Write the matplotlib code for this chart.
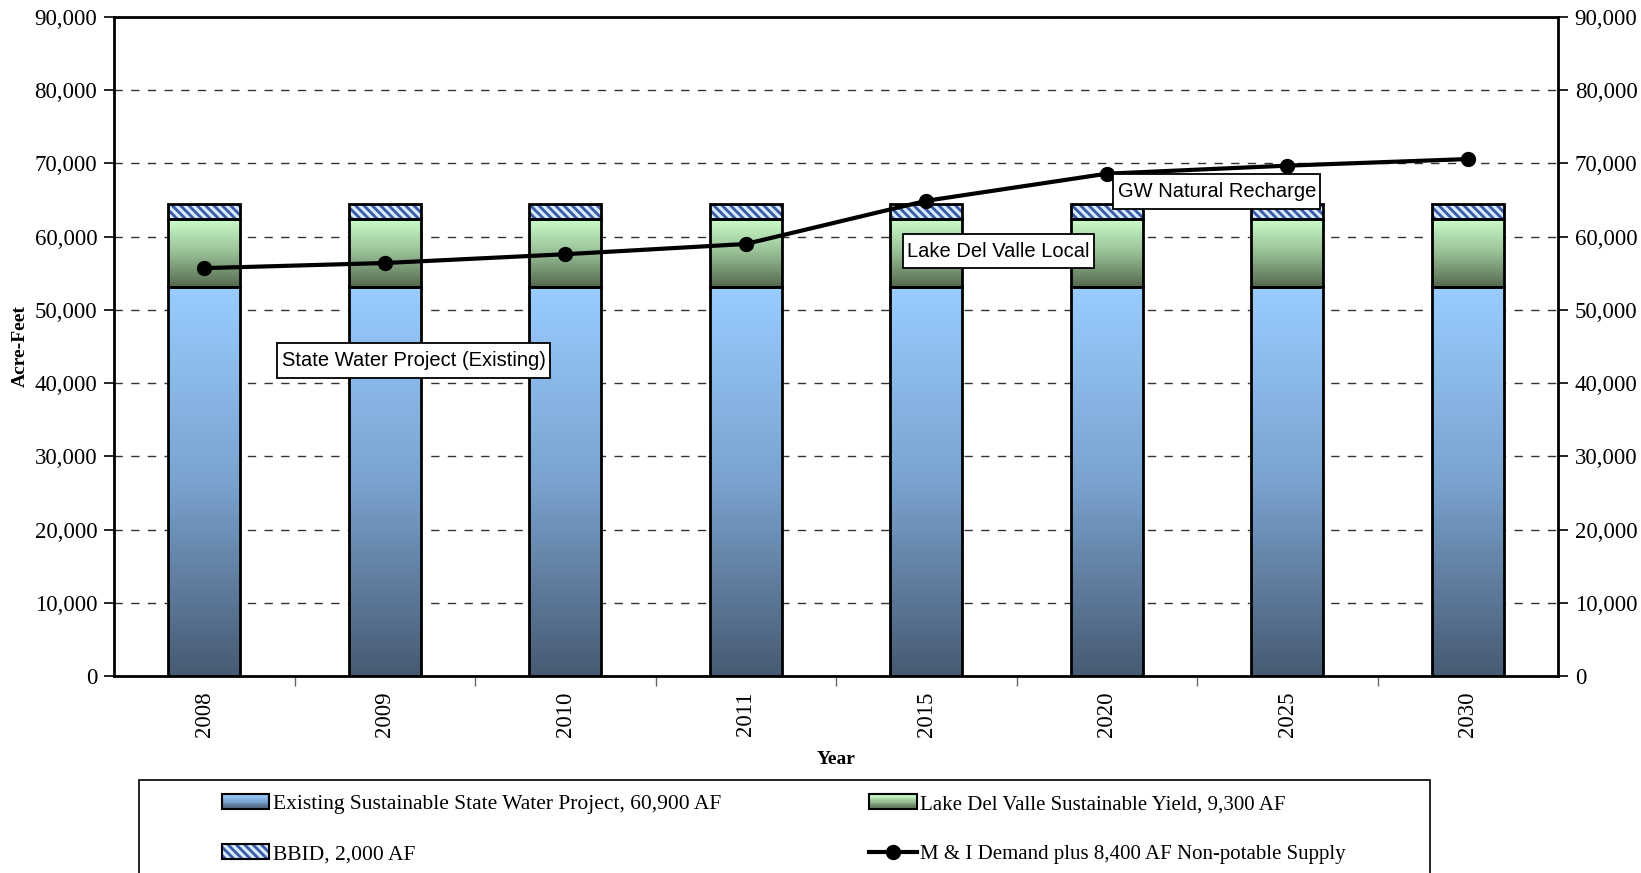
import numpy as np
import matplotlib
matplotlib.use("Agg")
import matplotlib.pyplot as plt
from matplotlib.colors import LinearSegmentedColormap
from matplotlib.patches import Rectangle
from matplotlib.path import Path
from matplotlib.lines import Line2D
from matplotlib.legend_handler import HandlerBase

plt.rcParams["font.family"] = ["Liberation Serif", "DejaVu Serif"]
plt.rcParams["hatch.linewidth"] = 2.0

# ----------------------------- data -----------------------------
years = ["2008", "2009", "2010", "2011", "2015", "2020", "2025", "2030"]
swp_existing = [53100] * 8          # State Water Project (existing)
lake_del_valle = [9300] * 8         # Lake Del Valle sustainable yield
bbid = [2000] * 8                   # BBID
demand = [55700, 56400, 57600, 59000, 64900, 68600, 69700, 70600]

labels = ["Existing Sustainable State Water Project, 60,900 AF",
          "Lake Del Valle Sustainable Yield, 9,300 AF",
          "BBID, 2,000 AF",
          "M & I Demand plus 8,400 AF Non-potable Supply"]

callouts = [("State Water Project (Existing)", 1.16, 43100),
            ("Lake Del Valle Local", 4.40, 58000),
            ("GW Natural Recharge", 5.61, 66150)]

# --------------------------- colours ----------------------------
blue_cmap = LinearSegmentedColormap.from_list("blue", ["#475a72", "#7aa3cf", "#99ccff"])
green_cmap = LinearSegmentedColormap.from_list("green", ["#55694f", "#98bf96", "#ccffcc"])
HATCH_BG, HATCH_FG = "#d6ebff", "#3a5aa8"

W, H = 1641, 873
fig = plt.figure(figsize=(W / 100, H / 100), dpi=100)
ax = fig.add_axes([114 / W, 1 - 676 / H, (1558 - 114) / W, (676 - 17) / H])

x = np.arange(len(years))
width = 0.4
grad = np.linspace(0, 1, 256).reshape(-1, 1)


def gradient_bars(bottom, height, cmap):
    bars = ax.bar(x, height, width, bottom=bottom, facecolor="none",
                  edgecolor="black", linewidth=2, zorder=4)
    for b in bars:
        x0, y0 = b.get_x(), b.get_y()
        im = ax.imshow(grad, cmap=cmap, origin="lower", aspect="auto",
                       extent=[x0, x0 + b.get_width(), y0, y0 + b.get_height()],
                       zorder=3)
        im.set_clip_path(b)
    return bars


def label_box(x0, y0, w, h, mutation_size):
    # rectangle with more vertical than horizontal padding
    px, py = 0.22 * mutation_size, 0.38 * mutation_size
    x0, y0, x1, y1 = x0 - px, y0 - py, x0 + w + px, y0 + h + py
    return Path([(x0, y0), (x1, y0), (x1, y1), (x0, y1), (x0, y0)], closed=True)


swp = np.array(swp_existing)
ldv = np.array(lake_del_valle)
gradient_bars(0, swp, blue_cmap)
gradient_bars(swp, ldv, green_cmap)
ax.bar(x, bbid, width, bottom=swp + ldv, facecolor=HATCH_BG, edgecolor=HATCH_FG,
       hatch="\\\\\\\\", linewidth=0, zorder=3)
ax.bar(x, bbid, width, bottom=swp + ldv, facecolor="none", edgecolor="black",
       linewidth=2, zorder=4)

ax.plot(x, demand, color="black", lw=3, marker="o", ms=10, zorder=5)

for txt, cx, cy in callouts:
    ax.text(cx, cy, txt, ha="center", va="center", fontsize=14.5,
            family=["Liberation Sans", "DejaVu Sans"], zorder=6,
            bbox=dict(boxstyle=label_box, fc="white", ec="black", lw=1.3))

ax.set_xlim(-0.5, len(years) - 0.5)
ax.set_ylim(0, 90000)
ax.set_yticks(np.arange(0, 90001, 10000))
ax.yaxis.set_major_formatter(matplotlib.ticker.FuncFormatter(lambda v, p: f"{v:,.0f}"))
ax.set_xticks(x)
ax.set_xticklabels(years, rotation=90)
ax.set_xticks(np.arange(0.5, len(years) - 0.5), minor=True)
ax.tick_params(axis="x", which="major", length=0, pad=11, labelsize=16.5)
ax.tick_params(axis="x", which="minor", length=7, width=1, color="#666666")
ax.tick_params(axis="y", which="major", length=7, width=1.2, labelsize=16.5,
               right=True, labelright=True, direction="out", pad=5)
ax.yaxis.grid(True, linestyle=(0, (6, 6)), color="#333333", lw=1, zorder=0)
ax.set_axisbelow(True)
for s in ax.spines.values():
    s.set_linewidth(2)

ax.set_xlabel("Year", fontsize=14, fontweight="bold", labelpad=10)
ax.set_ylabel("Acre-Feet", fontsize=14, fontweight="bold", labelpad=4)


# ----------------------------- legend -----------------------------
class GradientHandler(HandlerBase):
    def __init__(self, cmap):
        super().__init__()
        self.cmap = cmap

    def create_artists(self, legend, orig, xd, yd, w, h, fontsize, trans):
        arts = []
        n = 12
        for i in range(n):
            arts.append(Rectangle((xd, yd + h * i / n), w, h / n + 0.3,
                                  fc=self.cmap(i / (n - 1)), ec="none", transform=trans))
        arts.append(Rectangle((xd, yd), w, h, fc="none", ec="black", lw=1.5,
                              transform=trans))
        return arts


class HatchHandler(HandlerBase):
    def create_artists(self, legend, orig, xd, yd, w, h, fontsize, trans):
        r = Rectangle((xd, yd), w, h, fc=HATCH_BG, ec=HATCH_FG, hatch="\\\\\\\\",
                      lw=0, transform=trans)
        e = Rectangle((xd, yd), w, h, fc="none", ec="black", lw=1.5, transform=trans)
        return [r, e]


h_swp = Rectangle((0, 0), 1, 1)
h_ldv = Rectangle((0, 0), 1, 1)
h_bbid = Rectangle((0, 0), 1, 1)
h_dem = Line2D([], [], color="black", lw=3, marker="o", ms=10)

leg = fig.legend([h_swp, h_bbid, h_ldv, h_dem], [labels[0], labels[2], labels[1], labels[3]],
                 handler_map={h_swp: GradientHandler(blue_cmap),
                              h_ldv: GradientHandler(green_cmap),
                              h_bbid: HatchHandler()},
                 loc="upper left", bbox_to_anchor=(222 / W, 1 - 794 / H), ncol=2,
                 frameon=False, fontsize=15.5, handlelength=2.2, handleheight=0.7,
                 handletextpad=0.15, columnspacing=6.9, labelspacing=1.4,
                 borderaxespad=0, borderpad=0)
for t in leg.get_texts()[2:]:
    t.set_fontsize(15.0)
fig.add_artist(Rectangle((139 / W, -0.05), (1430 - 139) / W, (873 - 780) / H + 0.05,
                         transform=fig.transFigure, fc="none", ec="black", lw=1.2))

fig.savefig("out.png", dpi=100)
